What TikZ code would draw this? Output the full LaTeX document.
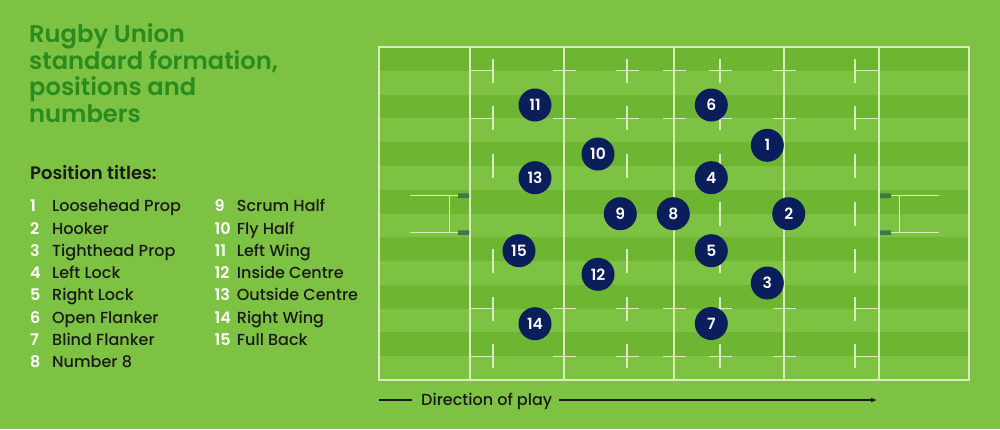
\documentclass[tikz,border=0pt]{standalone}
\usepackage{fontspec}
\setmainfont{Poppins}
\newfontfamily\headfont{Poppins SemiBold}
\newfontfamily\medfont{Poppins Medium}
\usetikzlibrary{arrows.meta}
\definecolor{grass}{RGB}{125,194,66}
\definecolor{grassdark}{RGB}{110,182,50}
\definecolor{chalk}{RGB}{218,236,186}
\definecolor{navy}{RGB}{10,30,92}
\definecolor{headgreen}{RGB}{42,140,30}
\definecolor{postgreen}{RGB}{62,118,80}
\definecolor{ink}{RGB}{26,26,26}

\begin{document}
\begin{tikzpicture}[
  x=1pt, y=-1pt,
  pitch/.style={draw=chalk, line width=1.3pt},
  player/.style={circle, fill=navy, minimum size=33pt, inner sep=0pt, text=white,
    font=\headfont\fontsize{15.5}{15.5}\selectfont},
  title/.style={anchor=base west, inner sep=0pt, text=headgreen,
    font=\headfont\fontsize{24.2}{26}\selectfont},
  listnum/.style={anchor=base west, inner sep=0pt, text=white,
    font=\headfont\fontsize{16}{16}\selectfont},
  listname/.style={anchor=base west, inner sep=0pt, text=ink,
    font=\medfont\fontsize{16}{16}\selectfont},
  post/.style={fill=postgreen}
]
\fill[grass] (0,0) rectangle (1000,429);
\useasboundingbox (0,0) rectangle (1000,429);

\foreach \i in {0,2,...,12}
  \fill[grassdark] (379,{47+\i*23.786}) rectangle (969,{47+(\i+1)*23.786});
\draw[pitch] (379,47) rectangle (969,380);
\foreach \x in {470,564,674,784,879}
  \draw[pitch] (\x,47) -- (\x,380);
\foreach \y in {70.8,118.4,308.6,356.2} {
  \draw[pitch] (470,\y) -- (493,\y) (493,\y-12) -- (493,\y+12);
  \draw[pitch] (552.5,\y) -- (575.5,\y) (662.5,\y) -- (685.5,\y) (772.5,\y) -- (795.5,\y);
  \draw[pitch] (615.5,\y) -- (638.5,\y) (627,\y-12) -- (627,\y+12);
  \draw[pitch] (708.5,\y) -- (731.5,\y) (720,\y-12) -- (720,\y+12);
  \draw[pitch] (855,\y) -- (879,\y) (855,\y-12) -- (855,\y+12);
}
\foreach \y in {166.2,213.5,261}
  \foreach \x in {627,720,855}
    \draw[pitch] (\x,\y-12) -- (\x,\y+12);
\foreach \y in {166.2,261}
  \draw[pitch] (493,\y-12) -- (493,\y+12);

\draw[pitch] (410,195.5) -- (458,195.5) (410,232.7) -- (458,232.7) (449.5,195.5) -- (449.5,232.7);
\draw[pitch] (891,195.5) -- (939,195.5) (891,232.7) -- (939,232.7) (899.5,195.5) -- (899.5,232.7);
\fill[post] (458,193.3) rectangle (469,198) (458,230.4) rectangle (469,235.1);
\fill[post] (880,193.3) rectangle (891,198) (880,230.4) rectangle (891,235.1);

\node[player] (p1) at (767.3,145.3) {1};
\node[player] (p2) at (788.7,213.7) {2};
\node[player] (p3) at (767.3,283) {3};
\node[player] (p4) at (711.3,177.7) {4};
\node[player] (p5) at (711.3,250.7) {5};
\node[player] (p6) at (711.3,105) {6};
\node[player] (p7) at (711.3,323.5) {7};
\node[player] (p8) at (673.3,213.7) {8};
\node[player] (p9) at (620.3,213.7) {9};
\node[player] (p10) at (598,154) {10};
\node[player] (p11) at (535,105) {11};
\node[player] (p12) at (598,274.3) {12};
\node[player] (p13) at (535,177.7) {13};
\node[player] (p14) at (535,323.7) {14};
\node[player] (p15) at (519,250.7) {15};

\node[title] (t1) at (29,42.3) {Rugby Union};
\node[title] (t2) at (29,69) {standard formation,};
\node[title] (t3) at (29,95.7) {positions and};
\node[title] (t4) at (29,122.3) {numbers};

\node[anchor=base west, inner sep=0pt, text=ink, font=\headfont\fontsize{18}{18}\selectfont]
  (head) at (30,179.3) {Position titles:};

\foreach \n/\name [count=\k from 0] in {1/Loosehead Prop, 2/Hooker, 3/Tighthead Prop,
    4/Left Lock, 5/Right Lock, 6/Open Flanker, 7/Blind Flanker, 8/Number 8} {
  \node[listnum] (n\n) at (30,211.7+\k*22.3) {\n};
  \node[listname] (l\n) at (52,211.7+\k*22.3) {\name};
}
\foreach \n/\name [count=\k from 0] in {9/Scrum Half, 10/Fly Half, 11/Left Wing,
    12/Inside Centre, 13/Outside Centre, 14/Right Wing, 15/Full Back} {
  \node[listnum] (n\n) at (214.3,211.7+\k*22.3) {\n};
  \node[listname] (l\n) at (236.7,211.7+\k*22.3) {\name};
}

\coordinate (dirstart) at (379,400);
\coordinate (dirend) at (877,400);
\node[listname, anchor=base west, inner sep=0pt] (dir) at (421,405) {Direction of play};
\draw[ink, line width=1.2pt] (dirstart) -- (412,400);
\draw[ink, line width=1.2pt, -{Latex[length=6pt,width=5pt]}] (559,400) -- (dirend);
\end{tikzpicture}
\end{document}
